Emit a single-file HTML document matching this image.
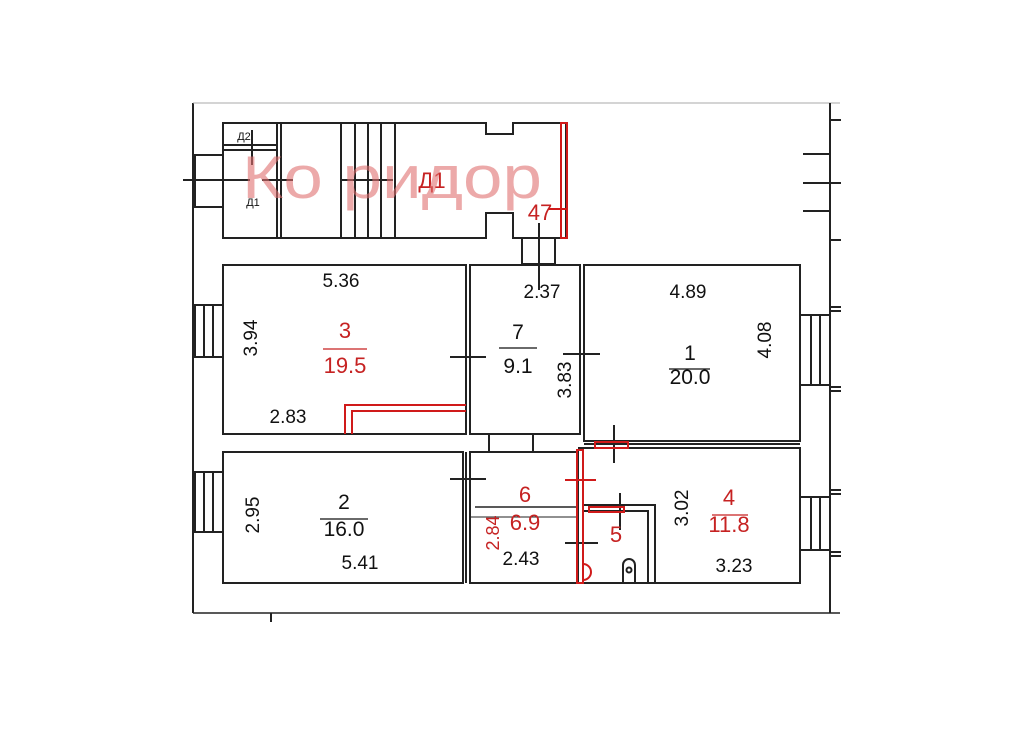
<!DOCTYPE html>
<html><head><meta charset="utf-8"><style>
body{margin:0;background:#fff;width:1024px;height:724px;overflow:hidden}
svg text{font-family:"Liberation Sans","DejaVu Sans",sans-serif}
</style></head><body>
<svg width="1024" height="724" viewBox="0 0 1024 724" xmlns="http://www.w3.org/2000/svg">
<g fill="none" stroke="#222" stroke-width="2">
<line x1="193" y1="103" x2="193" y2="613"/>
<line x1="193" y1="103" x2="840" y2="103" stroke="#aaa" stroke-width="1"/>
<line x1="193" y1="613" x2="840" y2="613" stroke-width="1.5"/>
<line x1="830" y1="103" x2="830" y2="613"/>
<line x1="830" y1="120" x2="841" y2="120"/>
<line x1="803" y1="154" x2="830" y2="154"/>
<line x1="803" y1="183" x2="841" y2="183"/>
<line x1="803" y1="211" x2="830" y2="211"/>
<line x1="830" y1="240" x2="841" y2="240"/>
<line x1="830" y1="307" x2="841" y2="307"/><line x1="830" y1="311" x2="841" y2="311"/>
<line x1="830" y1="387" x2="841" y2="387"/><line x1="830" y1="391" x2="841" y2="391"/>
<line x1="830" y1="490" x2="841" y2="490"/><line x1="830" y1="494" x2="841" y2="494"/>
<line x1="830" y1="552" x2="841" y2="552"/><line x1="830" y1="556" x2="841" y2="556"/>
<line x1="271" y1="613" x2="271" y2="622"/>
<path d="M223 123 H486 V134 H513 V123 H566 V238 H513 V213 H486 V238 H223 Z"/>
<line x1="223" y1="145" x2="277" y2="145"/><line x1="223" y1="150" x2="277" y2="150"/>
<line x1="277" y1="123" x2="277" y2="238"/><line x1="281" y1="123" x2="281" y2="238"/>
<line x1="341" y1="123" x2="341" y2="238"/><line x1="355" y1="123" x2="355" y2="238"/>
<line x1="368" y1="123" x2="368" y2="238"/><line x1="381" y1="123" x2="381" y2="238"/>
<line x1="395" y1="123" x2="395" y2="238"/>
<rect x="195" y="155" width="28" height="52"/>
<line x1="183" y1="180" x2="250" y2="180"/><line x1="262" y1="180" x2="293" y2="180"/>
<line x1="252" y1="130" x2="252" y2="165"/>
<line x1="342" y1="180" x2="393" y2="180"/>
<rect x="522" y="238" width="33" height="26"/>
<line x1="539" y1="223" x2="539" y2="290"/>
<rect x="223" y="265" width="243" height="169"/>
<rect x="470" y="265" width="110" height="169"/>
<line x1="466" y1="265" x2="466" y2="434"/>
<rect x="584" y="265" width="216" height="176"/>
<line x1="584" y1="441" x2="800" y2="441"/>
<rect x="223" y="452" width="240" height="131"/>
<rect x="470" y="452" width="108" height="131"/>
<line x1="466" y1="452" x2="466" y2="583"/>
<path d="M578 448 H800 V583 H578"/>
<line x1="584" y1="444" x2="800" y2="444"/>
<rect x="489" y="434" width="44" height="18"/>
<path d="M584 505 H655 V583"/><path d="M584 511 H648 V583"/>
<path d="M623 583 V565 a6 6 0 0 1 12 0 V583"/><circle cx="629" cy="570" r="2.5"/>
<rect x="195" y="305" width="28" height="52"/><line x1="204" y1="305" x2="204" y2="357"/><line x1="213" y1="305" x2="213" y2="357"/>
<rect x="195" y="472" width="28" height="60"/><line x1="204" y1="472" x2="204" y2="532"/><line x1="213" y1="472" x2="213" y2="532"/>
<rect x="800" y="315" width="30" height="70"/><line x1="811" y1="315" x2="811" y2="385"/><line x1="820" y1="315" x2="820" y2="385"/>
<rect x="800" y="497" width="30" height="53"/><line x1="811" y1="497" x2="811" y2="550"/><line x1="820" y1="497" x2="820" y2="550"/>
<line x1="450" y1="357" x2="486" y2="357"/><line x1="563" y1="354" x2="600" y2="354"/>
<line x1="450" y1="479" x2="486" y2="479"/>
<line x1="614" y1="425" x2="614" y2="463"/>
<line x1="475" y1="507" x2="578" y2="507" stroke-width="1.5"/><line x1="470" y1="517" x2="578" y2="517" stroke-width="1"/>
<line x1="565" y1="543" x2="598" y2="543"/><line x1="620" y1="493" x2="620" y2="530"/>
</g>
<g fill="none" stroke="#d01a1a" stroke-width="2">
<rect x="561" y="123" width="6" height="115"/>
<line x1="548" y1="209" x2="566" y2="209"/>
<path d="M466 405 H345 V434"/><path d="M466 411 H352 V434"/>
<rect x="577" y="450" width="6" height="133"/>
<line x1="565" y1="480" x2="596" y2="480"/>
<rect x="595" y="442" width="33" height="6"/>
<rect x="589" y="507" width="35" height="5"/>
<path d="M583 564 a8 8 0 0 1 0 16"/>
</g>
<g font-size="19" fill="#111" text-anchor="middle">
<text x="341" y="287">5.36</text>
<text x="542" y="298">2.37</text>
<text x="688" y="298">4.89</text>
<text x="288" y="423">2.83</text>
<text x="360" y="569">5.41</text>
<text x="521" y="565">2.43</text>
<text x="734" y="572">3.23</text>
<text transform="translate(257,338) rotate(-90)">3.94</text>
<text transform="translate(571,380) rotate(-90)">3.83</text>
<text transform="translate(771,340) rotate(-90)">4.08</text>
<text transform="translate(259,515) rotate(-90)">2.95</text>
<text transform="translate(688,508) rotate(-90)">3.02</text>
<text x="518" y="339" font-size="21">7</text><text x="518" y="373" font-size="21">9.1</text>
<text x="690" y="360" font-size="21">1</text><text x="690" y="384" font-size="21">20.0</text>
<text x="344" y="509" font-size="21">2</text><text x="344" y="536" font-size="21">16.0</text>
<text x="244" y="140" font-size="11">Д2</text>
<text x="253" y="206" font-size="11">Д1</text>
</g>
<g stroke="#111" stroke-width="1.2"><line x1="499" y1="348" x2="537" y2="348"/><line x1="669" y1="369" x2="710" y2="369"/><line x1="320" y1="519" x2="368" y2="519"/></g>
<g font-size="22" fill="#c62222" text-anchor="middle">
<text x="345" y="338">3</text><text x="345" y="373">19.5</text>
<text x="525" y="502">6</text><text x="525" y="530">6.9</text>
<text x="616" y="542">5</text>
<text x="729" y="505">4</text><text x="729" y="532">11.8</text>
<text x="432" y="188">Д1</text>
<text x="540" y="220">47</text>
<text transform="translate(499,533) rotate(-90)" font-size="18">2.84</text>
</g>
<g stroke="#c62222" stroke-width="1.3"><line x1="323" y1="349" x2="367" y2="349"/><line x1="712" y1="515" x2="748" y2="515"/></g>
<text x="242" y="198" font-size="60" fill="#e07070" fill-opacity="0.6" textLength="300" lengthAdjust="spacingAndGlyphs">Ко ридор</text>
</svg>
</body></html>
